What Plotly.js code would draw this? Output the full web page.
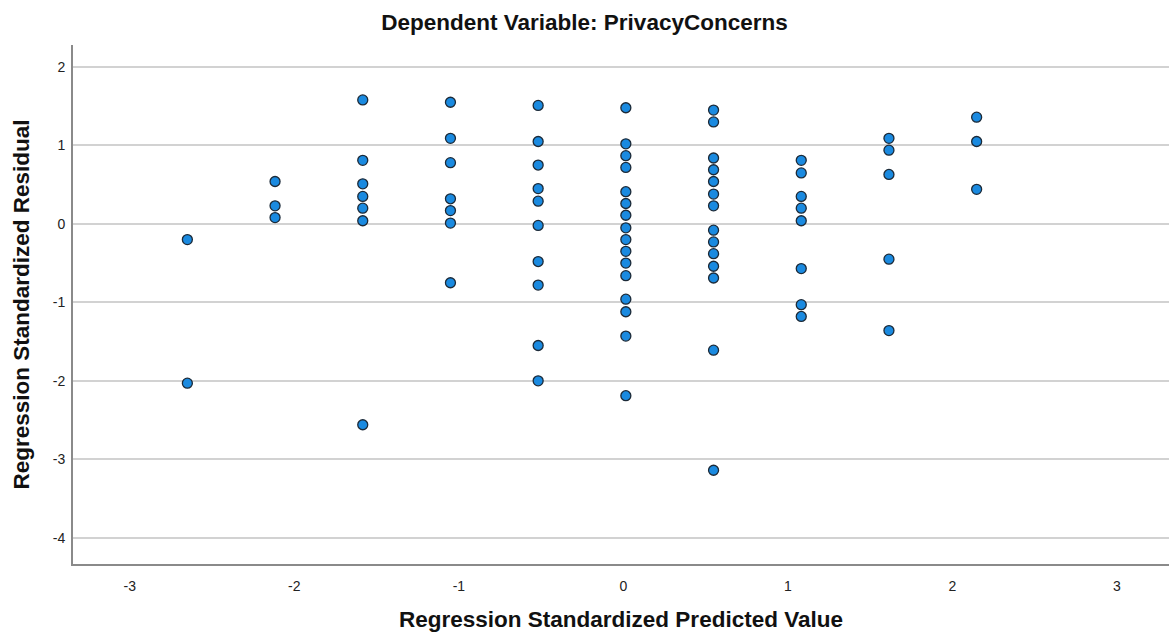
<!DOCTYPE html>
<html>
<head>
<meta charset="utf-8">
<script src="https://cdn.plot.ly/plotly-3.0.1.min.js"></script>
<style>html,body{margin:0;padding:0;background:#fff;}#chart{width:1169px;height:639px;}</style>
</head>
<body>
<div id="chart"></div>
<script>
// Regression standardized predicted values (one per column of points)
const predicted = [-2.65, -2.117, -1.584, -1.051, -0.518, 0.015, 0.548, 1.081, 1.614, 2.147];

// Regression standardized residuals for each predicted value
const resid1 = [-0.20, -2.03];
const resid2 = [0.54, 0.23, 0.08];
const resid3 = [1.58, 0.81, 0.51, 0.35, 0.20, 0.04, -2.56];
const resid4 = [1.55, 1.09, 0.78, 0.32, 0.17, 0.01, -0.75];
const resid5 = [1.51, 1.05, 0.75, 0.45, 0.29, -0.02, -0.48, -0.78, -1.55, -2.00];
const resid6 = [1.48, 1.02, 0.87, 0.72, 0.41, 0.26, 0.11, -0.05, -0.20, -0.35, -0.50, -0.66, -0.96, -1.12, -1.43, -2.19];
const resid7 = [1.45, 1.30, 0.84, 0.69, 0.54, 0.38, 0.23, -0.08, -0.23, -0.38, -0.54, -0.69, -1.61, -3.14];
const resid8 = [0.81, 0.65, 0.35, 0.20, 0.04, -0.57, -1.03, -1.18];
const resid9 = [1.09, 0.94, 0.63, -0.45, -1.36];
const resid10 = [1.36, 1.05, 0.44];

const residGroups = [resid1, resid2, resid3, resid4, resid5, resid6, resid7, resid8, resid9, resid10];

const xTicks = [-3, -2, -1, 0, 1, 2, 3];
const yTicks = [-4, -3, -2, -1, 0, 1, 2];

const xs = [], ys = [];
residGroups.forEach((g, i) => g.forEach(v => { xs.push(predicted[i]); ys.push(v); }));

const trace = {
  type: 'scatter',
  mode: 'markers',
  x: xs,
  y: ys,
  marker: {size: 10, color: '#1a8ae0', line: {color: '#1c2a38', width: 1.3}},
  hoverinfo: 'x+y',
  showlegend: false
};

const font = 'Arial, "Liberation Sans", sans-serif';

const layout = {
  width: 1169,
  height: 639,
  paper_bgcolor: '#ffffff',
  plot_bgcolor: '#ffffff',
  margin: {l: 73, r: 0, t: 45, b: 75},
  font: {family: font, color: '#222'},
  title: {
    text: '<b>Dependent Variable: PrivacyConcerns</b>',
    font: {family: font, size: 22.5, color: '#111'},
    x: 0.5, xref: 'container', xanchor: 'center',
    y: 0.965, yref: 'container', yanchor: 'middle'
  },
  xaxis: {
    range: [-3.345, 3.316],
    tickvals: xTicks,
    ticktext: xTicks.map(String),
    showgrid: false,
    zeroline: false,
    showline: true,
    linecolor: '#8a8a8a',
    linewidth: 2,
    ticks: 'outside',
    ticklen: 8,
    tickcolor: 'rgba(0,0,0,0)',
    tickfont: {family: font, size: 14, color: '#222'},
    title: {
      text: '<b>Regression Standardized Predicted Value</b>',
      font: {family: font, size: 22.5, color: '#111'},
      standoff: 18
    }
  },
  yaxis: {
    range: [-4.335, 2.28],
    tickvals: yTicks,
    ticktext: yTicks.map(String),
    showgrid: true,
    gridcolor: '#d2d2d2',
    gridwidth: 2,
    zeroline: false,
    showline: true,
    linecolor: '#8a8a8a',
    linewidth: 2,
    ticks: 'outside',
    ticklen: 3,
    tickcolor: 'rgba(0,0,0,0)',
    tickfont: {family: font, size: 14, color: '#222'},
    title: {
      text: '<b>Regression Standardized Residual</b>',
      font: {family: font, size: 22.5, color: '#111'},
      standoff: 17
    }
  }
};

Plotly.newPlot('chart', [trace], layout, {displayModeBar: false, responsive: false});
</script>
</body>
</html>
